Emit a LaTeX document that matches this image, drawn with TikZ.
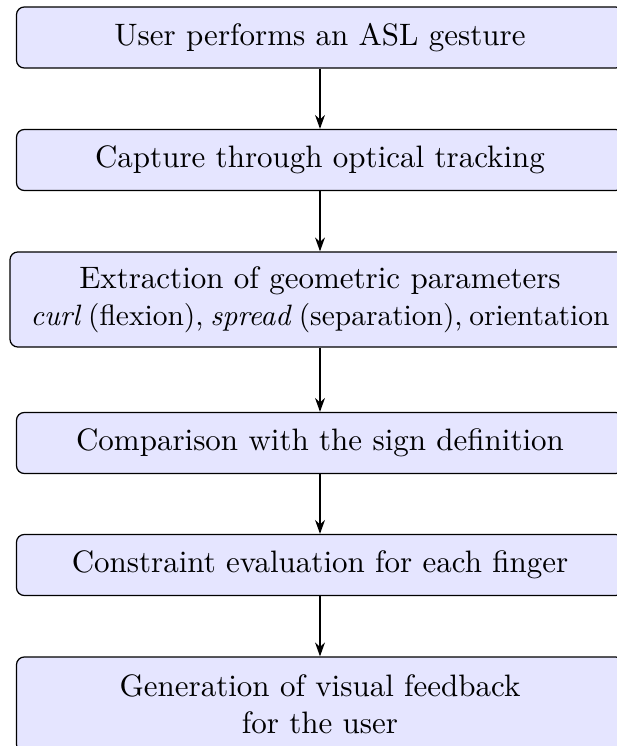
\documentclass[tikz,border=0pt]{standalone}
\usetikzlibrary{arrows.meta}
\begin{document}
\def\u{0.3226pt}
\begin{tikzpicture}[x=\u, y=-\u,
  stepbox/.style={draw, fill=blue!10, rounded corners=2.5pt, align=center,
    minimum width=607*\u, minimum height=61*\u},
  tallbox/.style={stepbox, minimum height=95*\u},
  flow/.style={-{Stealth[length=4.5pt,width=3.2pt]}}]
  \path[use as bounding box, clip] (0,0) rectangle (617,746);

  \node[stepbox] (s1) at (320,37.5) {User performs an ASL gesture};
  \node[stepbox] (s2) at (320,160) {Capture through optical tracking};
  \node[tallbox, minimum width=620*\u] (s3) at (320,299.5)
    {Extraction of geometric parameters\\
     {\fontsize{9.5pt}{12pt}\selectfont\spaceskip=2.2pt\relax
      \textit{curl} (flexion), \textit{spread} (separation), orientation}};
  \node[stepbox] (s4) at (320,443) {Comparison with the sign definition};
  \node[stepbox] (s5) at (320,565) {Constraint evaluation for each finger};
  \node[tallbox] (s6) at (320,704.5)
    {Generation of visual feedback\\ for the user};

  \draw[flow] (s1) -- (s2);
  \draw[flow] (s2) -- (s3);
  \draw[flow] (s3) -- (s4);
  \draw[flow] (s4) -- (s5);
  \draw[flow] (s5) -- (s6);
\end{tikzpicture}
\end{document}
